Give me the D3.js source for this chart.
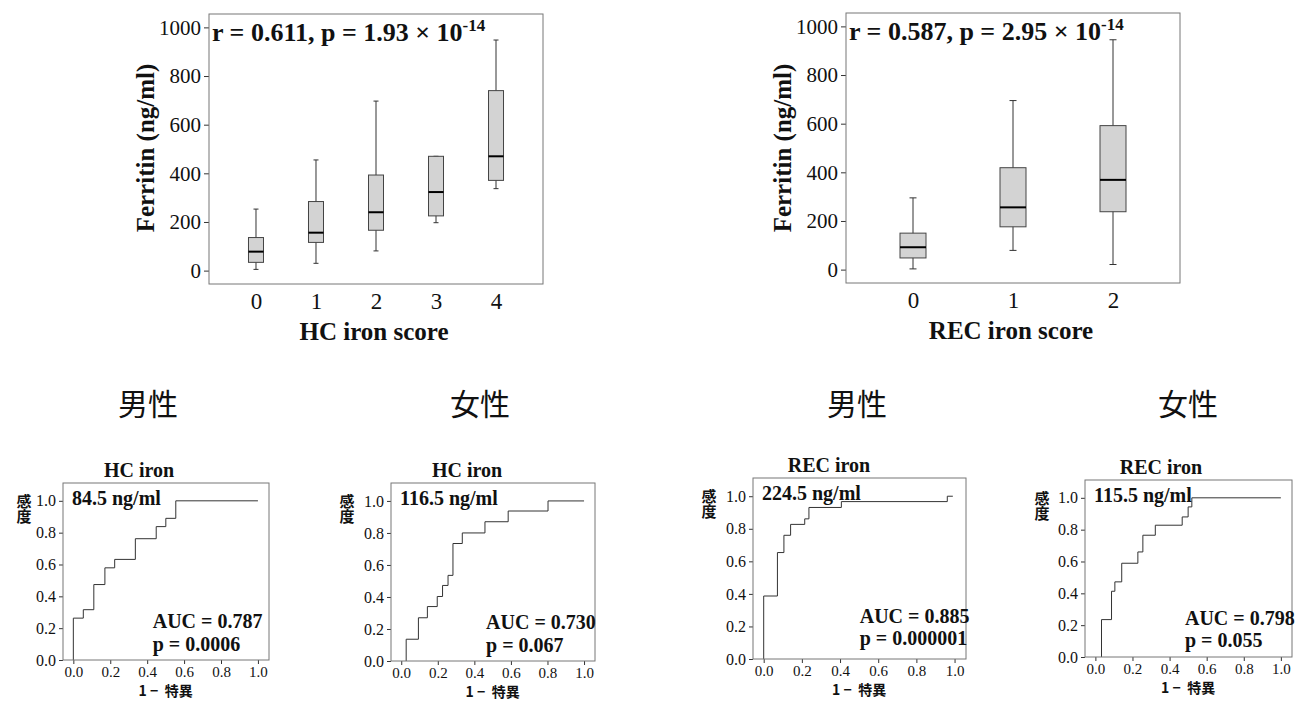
<!DOCTYPE html>
<meta charset="utf-8">
<style>

body { margin: 0; background: #fff; }
svg { display: block; }

.frame { fill: none; stroke: #777; stroke-width: 1px; }
.axis path.domain { display: none; }
.axis line { stroke: #333; }
.box { fill: #d3d3d3; stroke: #444; stroke-width: 1px; }
.median { stroke: #000; stroke-width: 2px; }
.whisker { stroke: #333; stroke-width: 1px; }
.roc { fill: none; stroke: #333; stroke-width: 1px; }
.serif { font-family: "Liberation Serif", "Times New Roman", serif; fill: #111; }
.jp { font-family: "Noto Sans CJK JP", "Noto Sans", sans-serif; fill: #111; }

</style>
<body>
<script src="https://d3js.org/d3.v7.min.js"></script>
<script>

// ---- box plots : ferritin by iron score ----
var hcScores = ["0", "1", "2", "3", "4"];
var hcMin    = [5, 30, 81, 197, 337];
var hcQ1     = [34, 116, 166, 225, 371];
var hcMedian = [78, 156, 240, 323, 470];
var hcQ3     = [136, 284, 393, 470, 740];
var hcMax    = [253, 455, 697, 470, 948];

var recScores = ["0", "1", "2"];
var recMin    = [3, 79, 21];
var recQ1     = [48, 176, 238];
var recMedian = [92, 256, 369];
var recQ3     = [150, 419, 592];
var recMax    = [295, 695, 945];

var ferritinTicks = [0, 200, 400, 600, 800, 1000];

// ---- ROC curves (1 - specificity, sensitivity) ----
var hcMaleFpr = [0, 0, 0.054, 0.111, 0.171, 0.224, 0.336, 0.449, 0.501, 0.555, 1.0];
var hcMaleTpr = [0, 0.263, 0.316, 0.474, 0.579, 0.632, 0.762, 0.838, 0.89, 1.0, 1.0];

var hcFemaleFpr = [0.027, 0.027, 0.094, 0.143, 0.197, 0.226, 0.256, 0.283, 0.334, 0.458, 0.585, 0.803, 1.0];
var hcFemaleTpr = [0, 0.136, 0.27, 0.34, 0.403, 0.472, 0.535, 0.734, 0.80, 0.87, 0.937, 1.0, 1.0];

var recMaleFpr = [0, 0, 0.072, 0.106, 0.141, 0.215, 0.237, 0.407, 0.962, 0.991];
var recMaleTpr = [0, 0.387, 0.654, 0.76, 0.827, 0.861, 0.931, 0.967, 1.0, 1.0];

var recFemaleFpr = [0.033, 0.033, 0.087, 0.105, 0.142, 0.229, 0.256, 0.323, 0.468, 0.50, 0.52, 1.0];
var recFemaleTpr = [0, 0.235, 0.413, 0.472, 0.589, 0.66, 0.765, 0.828, 0.88, 0.943, 1.0, 1.0];

var rocTicks   = [0, 0.2, 0.4, 0.6, 0.8, 1.0];
var rocTitles  = ["HC iron", "HC iron", "REC iron", "REC iron"];
var rocCutoffs = ["84.5 ng/ml", "116.5 ng/ml", "224.5 ng/ml", "115.5 ng/ml"];
var rocAuc     = ["AUC = 0.787", "AUC = 0.730", "AUC = 0.885", "AUC = 0.798"];
var rocP       = ["p = 0.0006", "p = 0.067", "p = 0.000001", "p = 0.055"];
var sexLabels  = ["男性", "女性", "男性", "女性"];

var svg = d3.select("body").append("svg")
    .attr("width", 1297)
    .attr("height", 701);

// ---------- box plot panels ----------
var boxPanels = [
  {left: 209, top: 14, width: 334, height: 270, pad: 0.783, boxW: 15, capW: 5,
   cats: hcScores, min: hcMin, q1: hcQ1, med: hcMedian, q3: hcQ3, max: hcMax,
   r: "r = 0.611, p = 1.93 × 10", xTitle: "HC iron score"},
  {left: 846, top: 13, width: 334, height: 270, pad: 0.67, boxW: 26, capW: 7,
   cats: recScores, min: recMin, q1: recQ1, med: recMedian, q3: recQ3, max: recMax,
   r: "r = 0.587, p = 2.95 × 10", xTitle: "REC iron score"}
];

boxPanels.forEach(function(p) {
  var g = svg.append("g").attr("transform", "translate(" + p.left + "," + p.top + ")");

  var x = d3.scalePoint().domain(p.cats).range([0, p.width]).padding(p.pad);
  var y = d3.scaleLinear().domain([-55, 1055]).range([p.height, 0]);

  var rows = p.cats.map(function(c, i) {
    return {cat: c, min: p.min[i], q1: p.q1[i], med: p.med[i], q3: p.q3[i], max: p.max[i]};
  });

  var yAxis = g.append("g").attr("class", "axis")
      .call(d3.axisLeft(y).tickValues(ferritinTicks).tickFormat(d3.format("d")).tickSize(5).tickPadding(3));
  yAxis.selectAll("text")
      .attr("class", "serif")
      .style("font-size", "21px");

  var xAxis = g.append("g").attr("class", "axis")
      .attr("transform", "translate(0," + p.height + ")")
      .call(d3.axisBottom(x).tickSize(0));
  xAxis.selectAll("text")
      .attr("class", "serif")
      .attr("y", 25)
      .attr("dy", null)
      .style("font-size", "23px");

  var b = g.selectAll(".bp").data(rows).enter().append("g").attr("class", "bp");

  b.append("line").attr("class", "whisker")
      .attr("x1", function(d) { return x(d.cat); })
      .attr("x2", function(d) { return x(d.cat); })
      .attr("y1", function(d) { return y(d.max); })
      .attr("y2", function(d) { return y(d.min); });

  b.append("line").attr("class", "whisker")
      .attr("x1", function(d) { return x(d.cat) - p.capW / 2; })
      .attr("x2", function(d) { return x(d.cat) + p.capW / 2; })
      .attr("y1", function(d) { return y(d.max); })
      .attr("y2", function(d) { return y(d.max); });

  b.append("line").attr("class", "whisker")
      .attr("x1", function(d) { return x(d.cat) - p.capW / 2; })
      .attr("x2", function(d) { return x(d.cat) + p.capW / 2; })
      .attr("y1", function(d) { return y(d.min); })
      .attr("y2", function(d) { return y(d.min); });

  b.append("rect").attr("class", "box")
      .attr("x", function(d) { return x(d.cat) - p.boxW / 2; })
      .attr("width", p.boxW)
      .attr("y", function(d) { return y(d.q3); })
      .attr("height", function(d) { return y(d.q1) - y(d.q3); });

  b.append("line").attr("class", "median")
      .attr("x1", function(d) { return x(d.cat) - p.boxW / 2; })
      .attr("x2", function(d) { return x(d.cat) + p.boxW / 2; })
      .attr("y1", function(d) { return y(d.med); })
      .attr("y2", function(d) { return y(d.med); });

  g.append("rect").attr("class", "frame")
      .attr("width", p.width).attr("height", p.height);

  var t = g.append("text").attr("class", "serif")
      .attr("x", 3).attr("y", 27)
      .style("font-size", "26px").style("font-weight", "bold");
  t.append("tspan").text(p.r);
  t.append("tspan").attr("dy", -10).style("font-size", "17px").text("-14");

  g.append("text").attr("class", "serif")
      .attr("x", p.width / 2 - 2).attr("y", p.height + 56)
      .attr("text-anchor", "middle")
      .style("font-size", "25px").style("font-weight", "bold")
      .text(p.xTitle);

  g.append("text").attr("class", "serif")
      .attr("transform", "translate(-55," + (148 - p.top) + ") rotate(-90)")
      .attr("text-anchor", "middle")
      .style("font-size", "25px").style("font-weight", "bold")
      .text("Ferritin (ng/ml)");
});

// ---------- sex headers ----------
var headerX = [148, 480, 857, 1188];
svg.selectAll(".sex").data(sexLabels).enter().append("text")
    .attr("class", "jp sex")
    .attr("x", function(d, i) { return headerX[i]; })
    .attr("y", 402)
    .attr("text-anchor", "middle")
    .attr("dominant-baseline", "central")
    .style("font-size", "30px")
    .text(function(d) { return d; });

// ---------- ROC panels ----------
var rocPanels = [
  {left: 63, top: 483, width: 206, height: 177, fpr: hcMaleFpr, tpr: hcMaleTpr, yLab: -39, aucX: 0.43, aucY: 0.2, pY: 0.055},
  {left: 391, top: 483, width: 204, height: 178, fpr: hcFemaleFpr, tpr: hcFemaleTpr, yLab: -44, aucX: 0.464, aucY: 0.2, pY: 0.057},
  {left: 753, top: 478, width: 213, height: 181, fpr: recMaleFpr, tpr: recMaleTpr, yLab: -44, aucX: 0.503, aucY: 0.22, pY: 0.087},
  {left: 1085, top: 480, width: 207, height: 177, fpr: recFemaleFpr, tpr: recFemaleTpr, yLab: -43, aucX: 0.483, aucY: 0.2, pY: 0.062}
];

rocPanels.forEach(function(p, k) {
  var g = svg.append("g").attr("transform", "translate(" + p.left + "," + p.top + ")");

  var x = d3.scaleLinear().domain([-0.056, 1.06]).range([0, p.width]);
  var y = d3.scaleLinear().domain([0, 1.112]).range([p.height, 0]);

  var yAxis = g.append("g").attr("class", "axis")
      .call(d3.axisLeft(y).tickValues(rocTicks).tickFormat(d3.format(".1f")).tickSize(4).tickPadding(3));
  yAxis.selectAll("text")
      .attr("class", "serif")
      .style("font-size", "16px");

  var xAxis = g.append("g").attr("class", "axis")
      .attr("transform", "translate(0," + p.height + ")")
      .call(d3.axisBottom(x).tickValues(rocTicks).tickFormat(d3.format(".1f")).tickSize(4));
  xAxis.selectAll("text")
      .attr("class", "serif")
      .attr("y", 17)
      .attr("dy", null)
      .style("font-size", "15px");

  var line = d3.line()
      .x(function(d) { return x(d[0]); })
      .y(function(d) { return y(d[1]); })
      .curve(d3.curveStepAfter);

  g.append("path").attr("class", "roc")
      .attr("d", line(d3.zip(p.fpr, p.tpr)));

  g.append("rect").attr("class", "frame")
      .attr("width", p.width).attr("height", p.height);

  g.append("text").attr("class", "serif")
      .attr("x", 76).attr("y", -6)
      .attr("text-anchor", "middle")
      .style("font-size", "20px").style("font-weight", "bold")
      .text(rocTitles[k]);

  g.append("text").attr("class", "serif")
      .attr("x", 9).attr("y", y(1.0) + 4)
      .style("font-size", "20px").style("font-weight", "bold")
      .text(rocCutoffs[k]);

  g.append("text").attr("class", "serif")
      .attr("x", x(p.aucX)).attr("y", y(p.aucY))
      .style("font-size", "20px").style("font-weight", "bold")
      .text(rocAuc[k]);

  g.append("text").attr("class", "serif")
      .attr("x", x(p.aucX)).attr("y", y(p.pY))
      .style("font-size", "20px").style("font-weight", "bold")
      .text(rocP[k]);

  // y label written top to bottom
  g.append("text").attr("class", "jp")
      .attr("x", p.yLab).attr("y", y(1.0) - 7)
      .style("writing-mode", "vertical-rl")
      .style("font-size", "15px").style("font-weight", "bold")
      .text("感度");

  g.append("text").attr("class", "jp")
      .attr("x", x(0.5)).attr("y", p.height + 36)
      .attr("text-anchor", "middle")
      .style("font-size", "14px").style("font-weight", "bold")
      .attr("xml:space", "preserve")
      .text("1 −  特異");
});

</script>
